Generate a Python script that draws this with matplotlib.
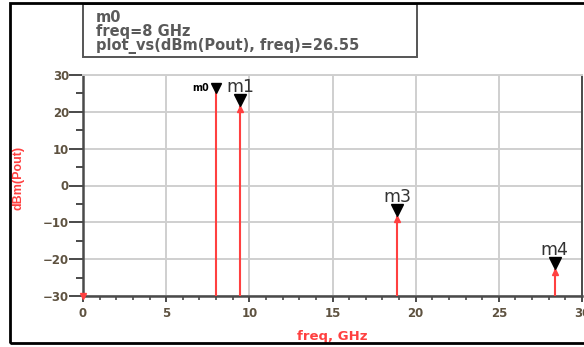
import matplotlib

matplotlib.use("Agg")
import matplotlib.pyplot as plt
from matplotlib.patches import Rectangle
from matplotlib.ticker import MultipleLocator
from matplotlib.transforms import offset_copy

plt.rcParams["font.family"] = ["DejaVu Sans"]

# spectrum of Pout: tones and harmonics
freq_ghz = [0.0, 8.0, 9.45, 18.9, 28.35]
pout_dbm = [-30.0, 26.55, 21.7, -8.3, -22.8]
marker_names = ["", "m0", "m1", "m3", "m4"]

readout_lines = ["m0", "freq=8 GHz", "plot_vs(dBm(Pout), freq)=26.55"]

RED = "#ff4040"
GRID = "#cfcfcf"
AXIS = "#4a4a4a"
TICKTXT = "#5e5240"

W, H = 584, 347
fig = plt.figure(figsize=(W / 100, H / 100), dpi=100)
ax = fig.add_axes([83 / W, 1 - 296 / H, (582 - 83) / W, (296 - 75) / H])

ax.set_xlim(0, 30)
ax.set_ylim(-30, 30)
ax.xaxis.set_major_locator(MultipleLocator(5))
ax.xaxis.set_minor_locator(MultipleLocator(1))
ax.yaxis.set_major_locator(MultipleLocator(10))
ax.yaxis.set_minor_locator(MultipleLocator(5))
ax.grid(True, which="major", color=GRID, linewidth=1.4)
ax.set_axisbelow(True)

for side in ("left", "bottom"):
    ax.spines[side].set_color(AXIS)
    ax.spines[side].set_linewidth(1.8)
ax.spines["top"].set_color(GRID)
ax.spines["top"].set_linewidth(1.4)
ax.spines["right"].set_color(AXIS)
ax.spines["right"].set_linewidth(1.4)

ax.tick_params(axis="y", which="major", direction="out", length=10, width=1.4,
               color=AXIS, pad=0, labelsize=8.5, labelcolor=TICKTXT)
ax.tick_params(axis="y", which="minor", direction="out", length=5, width=1.4, color=AXIS)
ax.tick_params(axis="x", which="major", direction="out", length=4, width=1.4,
               color=AXIS, pad=4, labelsize=8.5, labelcolor=TICKTXT)
ax.tick_params(axis="x", which="minor", direction="out", length=3, width=1.2, color=AXIS)
ax.tick_params(top=False, right=False)
for lbl in ax.get_xticklabels() + ax.get_yticklabels():
    lbl.set_fontweight("bold")

ax.set_xlabel("freq, GHz", color=RED, fontsize=9.5, fontweight="bold")
ax.xaxis.set_label_coords(0.5, -0.155)
ax.set_ylabel("dBm(Pout)", color=RED, fontsize=9, fontweight="bold",
              family="Liberation Sans")
ax.yaxis.set_label_coords(-0.118, 0.534)

# stems from the bottom of the scale up to each level
ax.vlines(freq_ghz, -30, pout_dbm, color=RED, linewidth=1.5, clip_on=False, zorder=3)

arrow_tf = offset_copy(ax.transData, fig=fig, x=0, y=-3, units="dots")
tri_tf = offset_copy(ax.transData, fig=fig, x=0, y=6, units="dots")
label_tf = offset_copy(ax.transData, fig=fig, x=0, y=19, units="dots")

for f, p, name in zip(freq_ghz, pout_dbm, marker_names):
    if name == "":
        ax.plot(f, p, marker="v", color=RED, markersize=5, clip_on=False, zorder=4)
    elif name == "m0":
        ax.plot(f, p, marker="v", color="black", markersize=7, zorder=5)
        ax.text(f - 0.45, p, name, fontsize=7, fontweight="bold", ha="right",
                va="center", color="black")
    else:
        ax.plot(f, p, marker="^", color=RED, markersize=5, transform=arrow_tf, zorder=4)
        ax.plot(f, p, marker="v", color="black", markersize=8, transform=tri_tf, zorder=5)
        ax.text(f, p, name, fontsize=12.5, ha="center", va="center", color="#333333",
                transform=label_tf)

# marker readout box
fig.add_artist(Rectangle((83 / W, 1 - 57 / H), (417 - 83) / W, (57 - 4) / H,
                         transform=fig.transFigure, facecolor="white",
                         edgecolor="#555555", linewidth=1.4))
for i, line in enumerate(readout_lines):
    fig.text(96 / W, 1 - (17 + 14.5 * i) / H, line, fontsize=10.5, fontweight="bold",
             color="#5a5a5a", va="center", ha="left")

# outer frame
fig.add_artist(Rectangle((10 / W, 1 - 343 / H), (W + 5 - 10) / W, (343 - 3) / H,
                         transform=fig.transFigure, facecolor="none",
                         edgecolor="black", linewidth=2, clip_on=False))

fig.savefig("out.png", dpi=100)
